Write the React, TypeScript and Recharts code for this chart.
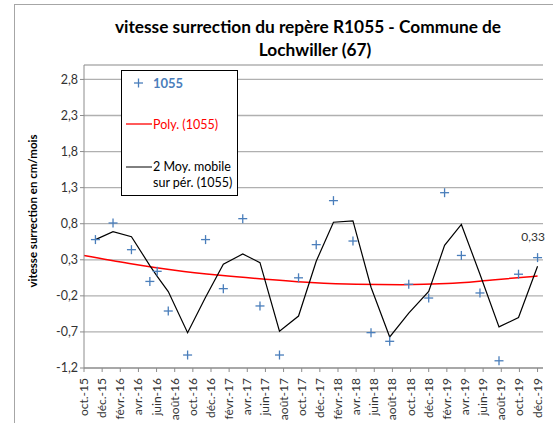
import React from "react";
import {
  ComposedChart,
  Line,
  Scatter,
  XAxis,
  YAxis,
  CartesianGrid,
  LabelList,
} from "recharts";

// x axis: months counted from oct. 2015, one tick label every 2 months
const TICK_LABELS = [
  "oct.-15", "déc.-15", "févr.-16", "avr.-16", "juin-16", "août-16",
  "oct.-16", "déc.-16", "févr.-17", "avr.-17", "juin-17", "août-17",
  "oct.-17", "déc.-17", "févr.-18", "avr.-18", "juin-18", "août-18",
  "oct.-18", "déc.-18", "févr.-19", "avr.-19", "juin-19", "août-19",
  "oct.-19", "déc.-19",
];
const TICK_MONTHS = TICK_LABELS.map((_, i) => i * 2);

const Y_TICKS = [-1.2, -0.7, -0.2, 0.3, 0.8, 1.3, 1.8, 2.3, 2.8];

// measurements of R1055
const MEASURE_MONTHS = [
  1.26, 3.2, 5.23, 7.26, 8.07, 9.29, 11.42, 13.4, 15.36, 17.5, 19.4, 21.55,
  23.65, 25.6, 27.5, 29.65, 31.64, 33.7, 35.8, 38.0, 39.75, 41.6, 43.65,
  45.75, 47.9, 50.0,
];
const SPEED = [
  0.58, 0.81, 0.44, 0.0, 0.14, -0.41, -1.02, 0.58, -0.1, 0.87, -0.34, -1.02,
  0.05, 0.51, 1.12, 0.56, -0.71, -0.83, -0.04, -0.23, 1.23, 0.36, -0.16,
  -1.1, 0.1, 0.33,
];
// 2-period moving average as drawn
const MOVING_AVG = [
  0.58, 0.69, 0.62, 0.22, 0.07, -0.14, -0.71, -0.22, 0.24, 0.38, 0.26, -0.69,
  -0.48, 0.28, 0.82, 0.84, -0.08, -0.77, -0.44, -0.14, 0.5, 0.79, 0.1, -0.63,
  -0.5, 0.21,
];
// polynomial trend
const POLY_MONTHS = [0, 5, 10, 15, 20, 25, 30, 35, 40, 45, 50];
const POLY = [0.36, 0.25, 0.155, 0.085, 0.03, -0.015, -0.04, -0.045, -0.03, 0.02, 0.075];

const FONT = "Lato, 'Open Sans', sans-serif";
const BLUE = "#4a7ebb";

const pointData = MEASURE_MONTHS.map((m, i) => ({ m, v: SPEED[i] }));
const maData = MEASURE_MONTHS.map((m, i) => ({ m, ma: MOVING_AVG[i] }));
const polyData = POLY_MONTHS.map((m, i) => ({ m, poly: POLY[i] }));

const fmt = (v: number) => v.toFixed(1).replace(".", ",");
const fmt2 = (v: number) => v.toFixed(2).replace(".", ",");

const PlusShape = (props: any) => {
  const { cx, cy } = props;
  if (cx == null || cy == null) return null;
  return (
    <g stroke={BLUE} strokeWidth={1.3}>
      <line x1={cx - 4.5} y1={cy} x2={cx + 4.5} y2={cy} />
      <line x1={cx} y1={cy - 4.5} x2={cx} y2={cy + 4.5} />
    </g>
  );
};

const XTick = (props: any) => {
  const { x, y, payload } = props;
  const label = TICK_LABELS[Math.round(payload.value / 2)];
  return (
    <text
      transform={`translate(${x + 4},${y + 4}) rotate(-90)`}
      textAnchor="end"
      fontSize={12}
      fontFamily={FONT}
      fill="#333"
    >
      {label}
    </text>
  );
};

const LastLabel = (props: any) => {
  const { x, y, index, value } = props;
  if (index !== SPEED.length - 1) return null;
  return (
    <text x={x} y={y - 12} textAnchor="middle" fontSize={12} fontFamily={FONT} fill="#333">
      {fmt2(value)}
    </text>
  );
};

export default function App() {
  return (
    <div
      style={{
        position: "absolute",
        left: 0,
        top: 0,
        width: 553,
        height: 423,
        background: "#fff",
        overflow: "hidden",
        fontFamily: FONT,
      }}
    >
      <div
        style={{
          position: "absolute",
          left: 14,
          top: 4,
          width: 560,
          height: 440,
          borderLeft: "1px solid #a6a6a6",
          borderTop: "1px solid #a6a6a6",
        }}
      />
      <ComposedChart
        width={553}
        height={423}
        margin={{ top: 65, right: 10, bottom: 5, left: 0 }}
        style={{ position: "absolute", left: 0, top: 0 }}
      >
        <CartesianGrid vertical={false} stroke="#b0b0b0" strokeWidth={1.3} />
        <XAxis
          type="number"
          dataKey="m"
          domain={[0, 50.6]}
          ticks={TICK_MONTHS}
          interval={0}
          height={50}
          tick={<XTick />}
          tickSize={4}
          axisLine={{ stroke: "#8c8c8c" }}
          tickLine={{ stroke: "#8c8c8c" }}
        />
        <YAxis
          type="number"
          domain={[-1.2, 3.0]}
          ticks={Y_TICKS}
          interval={0}
          width={84}
          tickFormatter={fmt}
          tickSize={4}
          tick={{ fontSize: 12.5, fontFamily: FONT, fill: "#333" }}
          axisLine={{ stroke: "#8c8c8c" }}
          tickLine={{ stroke: "#8c8c8c" }}
        />
        <Line
          data={polyData}
          dataKey="poly"
          type="monotone"
          stroke="#ff0000"
          strokeWidth={1.5}
          dot={false}
          isAnimationActive={false}
        />
        <Line
          data={maData}
          dataKey="ma"
          type="linear"
          stroke="#000"
          strokeWidth={1.2}
          dot={false}
          isAnimationActive={false}
        />
        <Scatter data={pointData} dataKey="v" shape={<PlusShape />} isAnimationActive={false}>
          <LabelList dataKey="v" content={<LastLabel />} />
        </Scatter>
      </ComposedChart>
      <svg
        width={553}
        height={423}
        style={{ position: "absolute", left: 0, top: 0, pointerEvents: "none" }}
      >
        <text x={308} y={33} textAnchor="middle" fontSize={17.3} fontWeight="bold" fontFamily={FONT} fill="#000">
          vitesse surrection du repère R1055 - Commune de
        </text>
        <text x={315} y={56} textAnchor="middle" fontSize={17.3} fontWeight="bold" fontFamily={FONT} fill="#000">
          Lochwiller (67)
        </text>
        <text
          transform="translate(37,211) rotate(-90)"
          textAnchor="middle"
          fontSize={11.5}
          fontWeight="bold"
          fontFamily={FONT}
          fill="#000"
        >
          vitesse surrection en cm/mois
        </text>
      </svg>
      <div
        style={{
          position: "absolute",
          left: 121,
          top: 70,
          width: 115,
          height: 124,
          border: "1px solid #000",
          background: "#fff",
        }}
      >
        <svg width={115} height={124} style={{ position: "absolute", left: 0, top: 0 }}>
          <g stroke={BLUE} strokeWidth={1.3}>
            <line x1={12} y1={12} x2={21} y2={12} />
            <line x1={16.5} y1={7.5} x2={16.5} y2={16.5} />
          </g>
          <text x={31} y={16.5} fontSize={13} fontWeight="bold" fill={BLUE} fontFamily={FONT}>
            1055
          </text>
          <line x1={4} y1={53} x2={30} y2={53} stroke="#ff0000" strokeWidth={1.3} />
          <text x={31} y={57.5} fontSize={12.5} fill="#ff0000" fontFamily={FONT}>
            Poly. (1055)
          </text>
          <line x1={4} y1={96} x2={30} y2={96} stroke="#000" strokeWidth={1} />
          <text x={31} y={100} fontSize={12.5} fill="#000" fontFamily={FONT}>
            2 Moy. mobile
          </text>
          <text x={31} y={116} fontSize={12.5} fill="#000" fontFamily={FONT}>
            sur pér. (1055)
          </text>
        </svg>
      </div>
    </div>
  );
}
